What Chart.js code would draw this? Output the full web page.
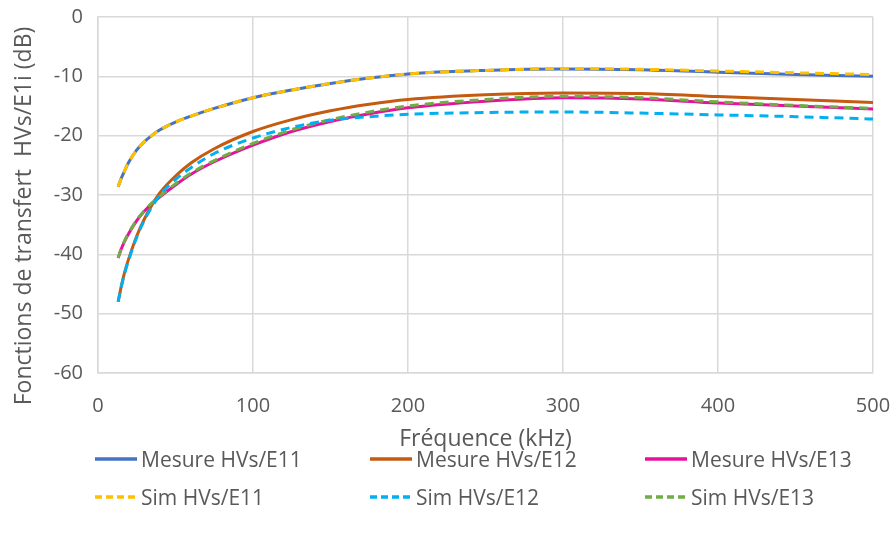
<!DOCTYPE html>
<html>
<head>
<meta charset="utf-8">
<script src="https://cdn.jsdelivr.net/npm/chart.js@4"></script>
<style>
  html, body { margin: 0; padding: 0; background: #fff; }
  #wrap { position: relative; width: 894px; height: 542px; }
  #legend { position: absolute; left: 0; top: 0; width: 894px; height: 542px; pointer-events: none;
            font-family: "Open Sans", sans-serif; font-size: 21px; color: #595959; }
  .item { position: absolute; display: flex; align-items: center; white-space: nowrap; }
  .item svg { margin-right: 4px; }
</style>
</head>
<body>
<div id="wrap">
  <canvas id="chart" width="894" height="542"></canvas>
  <div id="legend"></div>
</div>
<script>
// Frequency points (kHz)
const freq = [13, 15, 17, 20, 25, 30, 35, 40, 50, 60, 75, 100, 125, 150, 175, 200, 250, 300, 350, 400, 450, 500];

// Transfer functions (dB)
const mesE11 = [-28.6, -27.2, -26.0, -24.4, -22.4, -21.0, -19.9, -19.0, -17.7, -16.7, -15.4, -13.6, -12.3, -11.2, -10.3, -9.6, -9.0, -8.75, -8.9, -9.3, -9.7, -10.0];
const mesE12 = [-48.0, -45.4, -43.2, -40.6, -36.9, -34.0, -31.6, -29.6, -26.8, -24.6, -22.2, -19.3, -17.3, -15.8, -14.7, -13.9, -13.1, -12.8, -12.9, -13.4, -13.9, -14.4];
const mesE13 = [-40.6, -39.1, -37.9, -36.4, -34.3, -32.7, -31.4, -30.3, -28.3, -26.5, -24.4, -21.6, -19.3, -17.6, -16.3, -15.3, -14.2, -13.6, -13.8, -14.5, -15.0, -15.5];
const simE11 = [-28.6, -27.2, -26.0, -24.4, -22.4, -21.0, -19.9, -19.0, -17.7, -16.7, -15.4, -13.6, -12.3, -11.2, -10.3, -9.6, -9.0, -8.7, -8.8, -9.1, -9.4, -9.7];
const simE12 = [-48.0, -45.5, -43.4, -40.8, -37.1, -34.2, -31.9, -30.0, -27.4, -25.4, -23.0, -20.4, -18.6, -17.4, -16.8, -16.4, -16.1, -16.0, -16.2, -16.5, -16.8, -17.2];
const simE13 = [-40.6, -39.0, -37.8, -36.3, -34.2, -32.6, -31.3, -30.2, -28.1, -26.3, -24.2, -21.3, -19.0, -17.3, -16.0, -15.0, -13.9, -13.35, -13.6, -14.3, -14.9, -15.4];

// Axis ticks
const xTicks = [0, 100, 200, 300, 400, 500];
const yTicks = [0, -10, -20, -30, -40, -50, -60];

const seriesNames = ['Mesure HVs/E11', 'Mesure HVs/E12', 'Mesure HVs/E13', 'Sim HVs/E11', 'Sim HVs/E12', 'Sim HVs/E13'];
const seriesValues = [mesE11, mesE12, mesE13, simE11, simE12, simE13];
const seriesColors = ['#4472C4', '#C55A11', '#E5139B', '#FFC000', '#00B0F0', '#70AD47'];
const seriesDashed = [false, false, false, true, true, true];

const xTitle = 'Fréquence (kHz)';
const yTitle = 'Fonctions de transfert  HVs/E1i (dB)';

const textColor = '#595959';
const gridColor = '#D9D9D9';
const fontFamily = '"Open Sans", sans-serif';

function toPoints(values) {
  return freq.map((f, i) => ({ x: f, y: values[i] }));
}

const datasets = seriesNames.map((name, i) => ({
  label: name,
  data: toPoints(seriesValues[i]),
  borderColor: seriesColors[i],
  backgroundColor: seriesColors[i],
  borderWidth: 3,
  borderDash: seriesDashed[i] ? [9, 6] : [],
  pointRadius: 0,
  fill: false,
  cubicInterpolationMode: 'monotone',
  order: seriesDashed[i] ? 0 : 1
}));

// Y axis title, drawn a bit lower than the plot centre like the original
const yTitlePlugin = {
  id: 'yTitle',
  afterDraw(chart) {
    const c = chart.ctx;
    c.save();
    c.translate(24, 216);
    c.rotate(-Math.PI / 2);
    c.font = '23px ' + fontFamily;
    c.fillStyle = textColor;
    c.textAlign = 'center';
    c.textBaseline = 'middle';
    c.fillText(yTitle, 0, 0);
    c.restore();
  }
};

const ctx = document.getElementById('chart').getContext('2d');
const chart = new Chart(ctx, {
  type: 'line',
  data: { datasets: datasets },
  plugins: [yTitlePlugin],
  options: {
    responsive: false,
    animation: false,
    layout: { padding: { top: 17, right: 21, bottom: 89, left: 0 } },
    plugins: {
      legend: { display: false },
      tooltip: { enabled: false }
    },
    scales: {
      x: {
        type: 'linear',
        min: 0,
        max: 500,
        afterBuildTicks: scale => { scale.ticks = xTicks.map(v => ({ value: v })); },
        afterFit: scale => {
          scale.height = 80;
          scale.paddingLeft = 0;
          scale.paddingRight = 0;
        },
        grid: { color: gridColor, lineWidth: 1.5, drawTicks: false },
        border: { color: gridColor, width: 1.5 },
        ticks: { color: textColor, font: { family: fontFamily, size: 20 }, padding: 21, maxRotation: 0 },
        title: {
          display: true,
          text: xTitle,
          color: textColor,
          font: { family: fontFamily, size: 23 },
          padding: { top: 0, bottom: 0 }
        }
      },
      y: {
        type: 'linear',
        min: -60,
        max: 0,
        afterBuildTicks: scale => { scale.ticks = yTicks.map(v => ({ value: v })); },
        afterFit: scale => {
          scale.width = 98;
          scale.paddingTop = 0;
          scale.paddingBottom = 0;
        },
        grid: { color: gridColor, lineWidth: 1.5, drawTicks: false },
        border: { color: gridColor, width: 1.5 },
        ticks: { color: textColor, font: { family: fontFamily, size: 20 }, padding: 15 }
      }
    }
  }
});

// Legend laid out as a 3-column grid like the original
const legendEl = document.getElementById('legend');
const colX = [95, 370, 645];
const rowY = [459, 497];
seriesNames.forEach((name, i) => {
  const item = document.createElement('div');
  item.className = 'item';
  item.style.left = colX[i % 3] + 'px';
  item.style.top = (rowY[Math.floor(i / 3)] - 15) + 'px';
  item.style.height = '30px';
  const dash = seriesDashed[i] ? 'stroke-dasharray="7,4"' : '';
  item.innerHTML = `<svg width="42" height="6"><line x1="0" y1="3" x2="42" y2="3" stroke="${seriesColors[i]}" stroke-width="3.5" ${dash}/></svg><span>${name}</span>`;
  legendEl.appendChild(item);
});
</script>
</body>
</html>
